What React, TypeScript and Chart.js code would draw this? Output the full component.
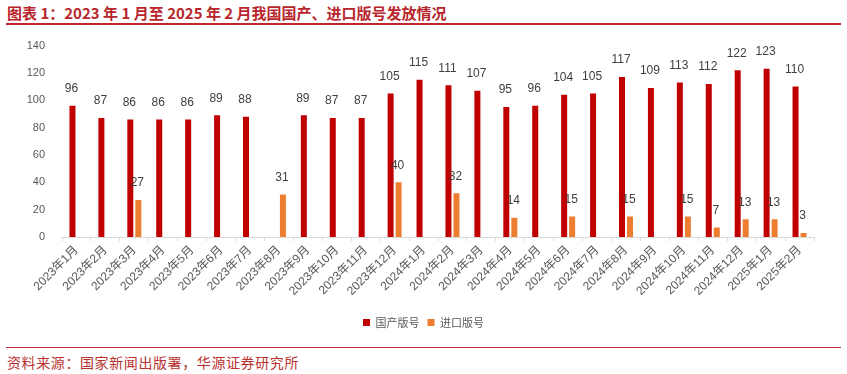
import React, { useEffect, useRef } from "react";
import { Chart, registerables } from "chart.js";

Chart.register(...registerables);

const categories = [
  "2023年1月", "2023年2月", "2023年3月", "2023年4月", "2023年5月", "2023年6月",
  "2023年7月", "2023年8月", "2023年9月", "2023年10月", "2023年11月", "2023年12月",
  "2024年1月", "2024年2月", "2024年3月", "2024年4月", "2024年5月", "2024年6月",
  "2024年7月", "2024年8月", "2024年9月", "2024年10月", "2024年11月", "2024年12月",
  "2025年1月", "2025年2月",
];

const domestic: (number | null)[] = [
  96, 87, 86, 86, 86, 89, 88, null, 89, 87, 87, 105,
  115, 111, 107, 95, 96, 104, 105, 117, 109, 113, 112, 122,
  123, 110,
];

const imported: (number | null)[] = [
  null, null, 27, null, null, null, null, 31, null, null, null, 40,
  null, 32, null, 14, null, 15, null, 15, null, 15, 7, 13,
  13, 3,
];

const seriesNames = ["国产版号", "进口版号"];
const yTicks = [0, 20, 40, 60, 80, 100, 120, 140];

const FONT = '"Liberation Sans", Arial, "Noto Sans CJK SC", sans-serif';
const CJK = '"Noto Sans CJK SC", "Liberation Sans", sans-serif';

const valueLabels = {
  id: "valueLabels",
  beforeDraw(chart: any) {
    // center the legend on the full canvas width
    if (chart.legend) {
      chart.legend.left = 0;
      chart.legend.right = chart.width;
      chart.legend.width = chart.width;
    }
  },
  afterDatasetsDraw(chart: any) {
    const ctx = chart.ctx;
    ctx.save();
    ctx.font = `12px ${FONT}`;
    ctx.fillStyle = "#404040";
    ctx.textAlign = "center";
    ctx.textBaseline = "middle";
    chart.data.datasets.forEach((ds: any, di: number) => {
      const meta = chart.getDatasetMeta(di);
      meta.data.forEach((bar: any, i: number) => {
        const v = ds.data[i];
        if (v === null || v === undefined) return;
        ctx.fillText(String(v), bar.x - 1, bar.y - 17);
      });
    });
    ctx.restore();
  },
};

export default function App() {
  const ref = useRef<HTMLCanvasElement>(null);

  useEffect(() => {
    document.body.style.margin = "0";
    const chart = new Chart(ref.current!, {
      type: "bar",
      data: {
        labels: categories,
        datasets: [
          {
            label: seriesNames[0],
            data: domestic,
            backgroundColor: "#C00000",
            categoryPercentage: 0.553,
            barPercentage: 0.75,
          },
          {
            label: seriesNames[1],
            data: imported,
            backgroundColor: "#ED7D31",
            categoryPercentage: 0.553,
            barPercentage: 0.75,
          },
        ],
      },
      options: {
        animation: false,
        responsive: false,
        layout: { padding: { top: 15, right: 33, left: 0, bottom: 0 } },
        plugins: {
          legend: {
            position: "bottom",
            labels: {
              boxWidth: 7,
              boxHeight: 7,
              padding: 8,
              color: "#595959",
              font: { size: 11, family: CJK },
            },
          },
          tooltip: { enabled: false },
        },
        scales: {
          x: {
            offset: true,
            grid: {
              offset: true,
              drawOnChartArea: false,
              drawTicks: true,
              tickLength: 4,
              color: "#D9D9D9",
            },
            border: { color: "#D9D9D9" },
            ticks: {
              autoSkip: false,
              maxRotation: 45,
              minRotation: 45,
              color: "#595959",
              font: { size: 12, family: FONT },
              padding: 2,
            },
            afterFit: (s: any) => {
              s.height = 72;
            },
          },
          y: {
            min: 0,
            max: 140,
            grid: { display: false },
            border: { display: false },
            afterBuildTicks: (s: any) => {
              s.ticks = yTicks.map((v) => ({ value: v }));
            },
            ticks: {
              color: "#595959",
              font: { size: 11, family: FONT },
              padding: 9,
            },
            afterFit: (s: any) => {
              s.width = 62;
            },
          },
        },
      },
      plugins: [valueLabels],
    });
    return () => chart.destroy();
  }, []);

  return (
    <div style={{ position: "relative", width: 847, height: 374, background: "#fff", overflow: "hidden" }}>
      <div
        style={{
          position: "absolute",
          left: 7,
          top: 3,
          fontFamily: CJK,
          fontWeight: "bold",
          fontSize: 15,
          color: "#B8252B",
          whiteSpace: "nowrap",
          lineHeight: "20px",
        }}
      >
        图表 1：2023 年 1 月至 2025 年 2 月我国国产、进口版号发放情况
      </div>
      <div style={{ position: "absolute", left: 6, top: 23, width: 835, height: 2, background: "#C0262C" }} />
      <canvas
        ref={ref}
        width={847}
        height={308}
        style={{ position: "absolute", left: 0, top: 30, width: 847, height: 308 }}
      />
      <div style={{ position: "absolute", left: 6, top: 347, width: 835, height: 1, background: "#B8312F" }} />
      <div
        style={{
          position: "absolute",
          left: 7,
          top: 352,
          fontFamily: CJK,
          fontSize: 14,
          letterSpacing: 0.6,
          color: "#B8312F",
          whiteSpace: "nowrap",
          lineHeight: "20px",
        }}
      >
        资料来源：国家新闻出版署，华源证券研究所
      </div>
    </div>
  );
}
